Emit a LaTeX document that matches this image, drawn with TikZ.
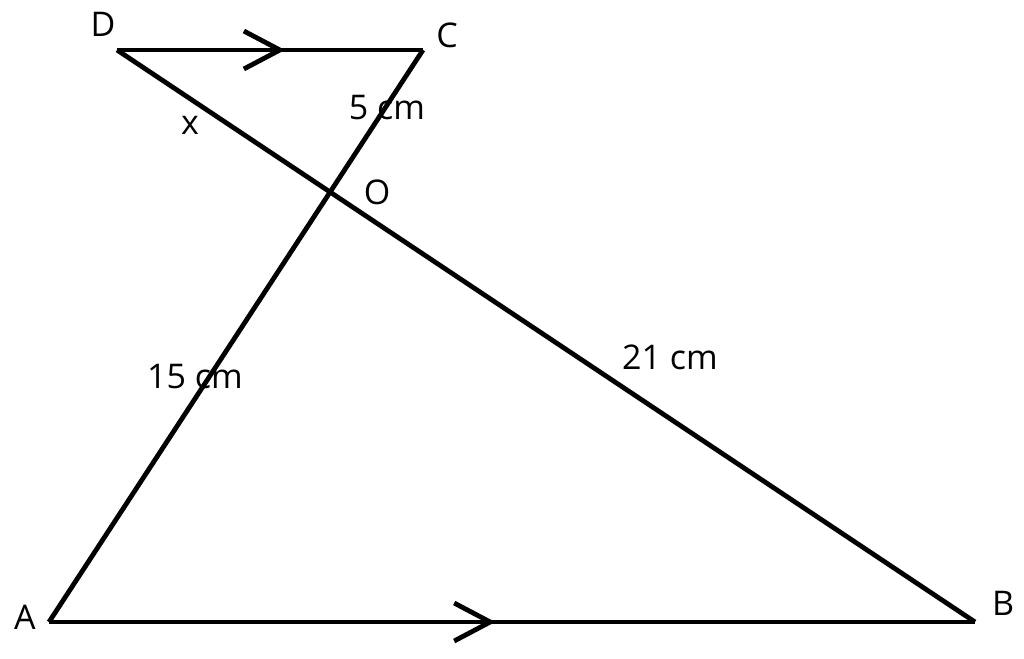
\documentclass[tikz,border=0pt]{standalone}
\usepackage{fontspec}
\setmainfont{Open Sans}
\usetikzlibrary{arrows.meta,calc}

\begin{document}
\begin{tikzpicture}[x=1pt,y=-1pt,line width=4.8pt]
		\useasboundingbox (0,0) rectangle (1024,658);
		\tikzset{lbl/.style={font=\fontsize{34}{40}\selectfont,inner sep=0pt}} %point and side labels
		\tikzset{barb/.style={-{Straight Barb[length=36pt,width=38pt,line width=4.8pt]}}}
		\coordinate (D) at (117,50);
		\coordinate (C) at (423,50);
		\coordinate (A) at (49,622);
		\coordinate (B) at (975,622);
		\draw (D)--(C); %parallel sides
		\draw (A)--(B);
		\draw (A)--(C); %diagonals
		\draw (D)--(B);
		\coordinate (DCtip) at ($(D)!0.549!(C)$); %parallel marks
		\coordinate (ABtip) at ($(A)!0.482!(B)$);
		\draw[barb] (D)--(DCtip);
		\draw[barb] (A)--(ABtip);
		\node[lbl] (Dl) at (103,24) {D};
		\node[lbl] (Cl) at (447,35) {C};
		\node[lbl] (Al) at (25,617) {A};
		\node[lbl] (Bl) at (1003,603) {B};
		\node[lbl] (Ol) at (377,192) {O};
		\node[lbl] (xl) at (190,125) {x};
		\node[lbl] (OC) at (387,108) {5 cm}; %side lengths
		\node[lbl] (OA) at (195,377) {15 cm};
		\node[lbl] (OB) at (670,357) {21 cm};
	\end{tikzpicture}
\end{document}
